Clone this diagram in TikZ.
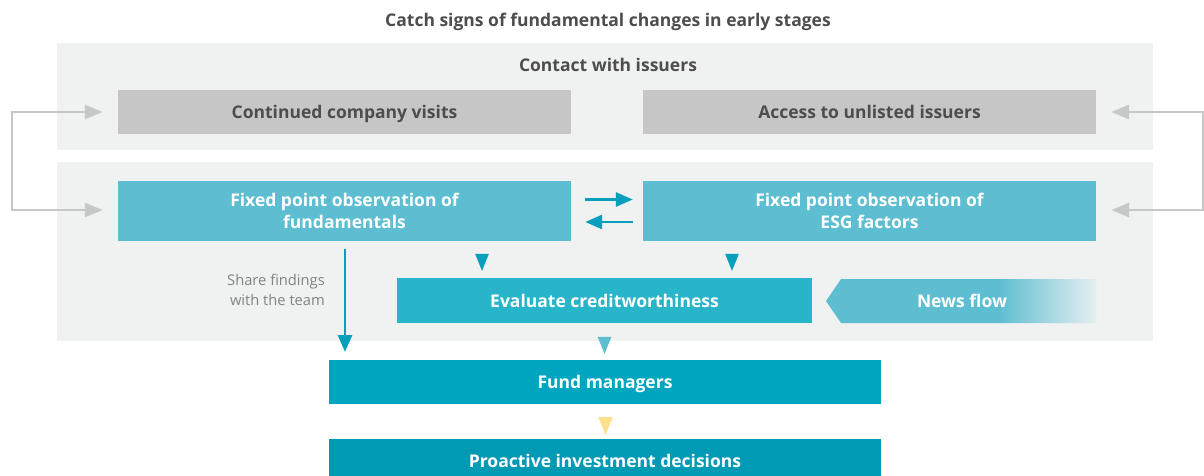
\documentclass[tikz,border=0pt]{standalone}
\usepackage{fontspec}
\setmainfont{Open Sans}
\usetikzlibrary{arrows.meta,shapes.geometric}
\definecolor{panelGray}{HTML}{F0F1F1}
\definecolor{boxGray}{HTML}{C5C6C5}
\definecolor{textGray}{HTML}{4D4D4F}
\definecolor{noteGray}{HTML}{808285}
\definecolor{loopGray}{HTML}{C6C7C7}
\definecolor{tealLight}{HTML}{5EBED1}
\definecolor{tealEval}{HTML}{28B5CA}
\definecolor{tealFund}{HTML}{00A6C0}
\definecolor{tealDeep}{HTML}{009AB5}
\definecolor{tealArrow}{HTML}{079FBB}
\definecolor{fadeEnd}{HTML}{E6EEF0}
\definecolor{softYellow}{HTML}{FFE08C}
\pgfdeclarehorizontalshading{newsFade}{100bp}{color(0bp)=(tealLight); color(57bp)=(tealLight); color(75bp)=(fadeEnd); color(100bp)=(fadeEnd)}
\begin{document}
\begin{tikzpicture}
[x=1pt,y=-1pt,
  panelDecorate/.style={fill=panelGray,minimum width=1096pt,inner sep=0pt},%
  boxDecorate/.style={inner sep=0pt,text depth=0pt,minimum width=453pt,font=\fontsize{17.5}{22}\selectfont\bfseries,align=center},%
  grayBox/.style={boxDecorate,fill=boxGray,text=textGray,minimum height=44pt},%
  tealBox/.style={boxDecorate,fill=tealLight,text=white,minimum height=60pt},%
  loopArrow/.style={draw=loopGray,line width=2.8pt,-{Triangle[length=18pt,width=14pt]}},%
  tealLine/.style={draw=tealArrow,line width=2.8pt,-{Triangle[length=17pt,width=14pt]}},%
  triDecorate/.style={isosceles triangle,isosceles triangle apex angle=44,shape border rotate=270,inner sep=0pt,minimum height=17pt}]
\useasboundingbox (0,0) rectangle (1204,476);
%% title and panels
\node (title) at (608,21.5) {\fontsize{17.5}{22}\selectfont\bfseries\color{textGray}Catch signs of fundamental changes in early stages};
\node (contact) at (605,96.5) [panelDecorate,minimum height=107pt] {};
\node (core) at (605,251.5) [panelDecorate,minimum height=179pt] {};
\node (contactlabel) at (608,65) {\fontsize{17.5}{22}\selectfont\bfseries\color{textGray}Contact with issuers};
%% boxes
\node (visits) at (344.5,112) [grayBox] {Continued company visits};
\node (unlisted) at (869.5,112) [grayBox] {Access to unlisted issuers};
\node (fundamentals) at (344.5,211) [tealBox] {Fixed point observation of\\fundamentals};
\node (esg) at (869.5,211) [tealBox] {Fixed point observation of\\ESG factors};
\node (evaluate) at (604.5,300.5) [boxDecorate,minimum width=415pt,minimum height=45pt,fill=tealEval,text=white] {Evaluate creditworthiness};
\shade[shading=newsFade] (826,301) -- (841,279) -- (1096,279) -- (1096,323) -- (841,323) -- cycle;
\node (news) at (962,301) [font=\fontsize{17.5}{22}\selectfont\bfseries,text depth=0pt,text=white] {News flow};
\node (fund) at (605,382) [boxDecorate,minimum width=552pt,minimum height=44pt,fill=tealFund,text=white] {Fund managers};
\node (proactive) at (605,461) [boxDecorate,minimum width=552pt,minimum height=44pt,fill=tealDeep,text=white] {Proactive investment decisions};
\node (share) at (325,290) [anchor=east,align=right,inner sep=0pt,font=\fontsize{14.7}{19.5}\selectfont,text=noteGray] {Share findings\\with the team};
%% arrow heads without shafts
\node (tri1) at (482,258.5) [triDecorate,fill=tealArrow] {};
\node (tri2) at (732,258.5) [triDecorate,fill=tealArrow] {};
\node (tri3) at (604.5,341.5) [triDecorate,fill=tealLight] {};
\node (tri4) at (605.5,422) [triDecorate,fill=softYellow,minimum height=18pt] {};
%% loop corners
\coordinate (lt) at (12,112);
\coordinate (lb) at (12,210);
\coordinate (rt) at (1203,112);
\coordinate (rb) at (1203,210);
%% connectors
\draw[loopArrow,shorten >=15pt] (lb) -- (lt) -- (visits.west);
\draw[loopArrow,shorten >=15pt] (lt) -- (lb) -- (fundamentals.west |- lb);
\draw[loopArrow,shorten >=15pt] (rb) -- (rt) -- (unlisted.east);
\draw[loopArrow,shorten >=15pt] (rt) -- (rb) -- (esg.east |- rb);
\draw[tealLine,shorten <=14pt,shorten >=10pt] (fundamentals.east |- 0,199.5) -- (esg.west |- 0,199.5);
\draw[tealLine,shorten <=10pt,shorten >=14pt] (esg.west |- 0,222) -- (fundamentals.east |- 0,222);
\draw[tealLine,shorten <=8pt,shorten >=8pt] (345,241) -- (345,360);
\end{tikzpicture}
\end{document}
